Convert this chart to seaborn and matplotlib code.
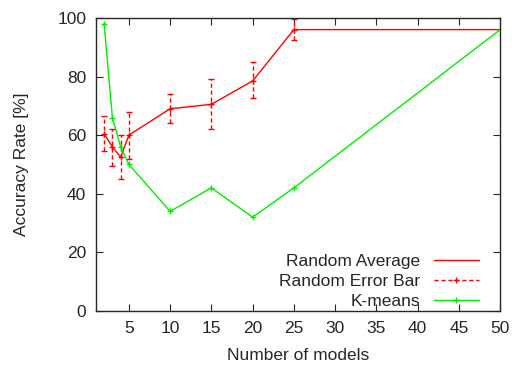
import matplotlib
matplotlib.use("Agg")
import matplotlib.pyplot as plt
import pandas as pd
import seaborn as sns

# ----------------------------
# data
# ----------------------------
n_models = [2, 3, 4, 5, 10, 15, 20, 25, 50]
random_avg = [60.5, 56, 52.5, 60, 69, 70.5, 78.5, 96, 96]
kmeans = [98, 66, 56, 50, 34, 42, 32, 42, 96]

err_x = [2, 3, 4, 5, 10, 15, 20, 25]
err_mid = [60.5, 56, 52.5, 60, 69, 70.5, 78.5, 96]
err_low = [54.5, 49.5, 45, 52, 64, 62, 72.5, 92.5]
err_high = [66.5, 62, 60, 68, 74, 79, 85, 99.5]

x_ticks = [5, 10, 15, 20, 25, 30, 35, 40, 45, 50]
y_ticks = [0, 20, 40, 60, 80, 100]

sns.set_style("ticks")
plt.rcParams["font.family"] = ["Liberation Sans", "DejaVu Sans"]
plt.rcParams["xtick.direction"] = "in"
plt.rcParams["ytick.direction"] = "in"

df = pd.DataFrame({"n": n_models, "avg": random_avg, "km": kmeans})

fig = plt.figure(figsize=(5.21, 3.65), dpi=100)
ax = fig.add_axes([0.184, 0.148, 0.776, 0.803])

red = "#ff0000"
green = "#00ee00"

sns.lineplot(data=df, x="n", y="avg", color=red, lw=1.0, ax=ax,
             label="Random Average")

lo = [m - l for m, l in zip(err_mid, err_low)]
hi = [h - m for m, h in zip(err_mid, err_high)]
eb = ax.errorbar(err_x, err_mid, yerr=[lo, hi], fmt="none", ecolor=red,
                 elinewidth=1.0, capsize=2, capthick=1.0)
for lc in eb[2]:
    lc.set_linestyle((0, (3, 2)))
ax.plot(err_x, err_mid, ls="none", marker="+", ms=5, mew=1.0, color=red)
eb_handle = plt.Line2D([], [], color=red, ls=(0, (3, 2)), lw=1.0,
                       marker="+", ms=5, mew=1.0)

sns.lineplot(data=df, x="n", y="km", color=green, lw=1.0, marker="+",
             markersize=5, markeredgewidth=1.0, markeredgecolor=green,
             ax=ax, label="K-means")

handles, labels = ax.get_legend_handles_labels()
handles = [handles[0], eb_handle, handles[1]]
labels = ["Random Average", "Random Error Bar", "K-means"]
ax.legend(handles, labels, loc="lower right", frameon=False,
          markerfirst=False, fontsize=12.5, handlelength=2.6,
          labelspacing=0.28, borderaxespad=0.0, handletextpad=0.8,
          bbox_to_anchor=(0.965, -0.018))

ax.set_xlim(1, 50)
ax.set_ylim(0, 100)
ax.set_xticks(x_ticks)
ax.set_yticks(y_ticks)
ax.tick_params(top=True, right=True, labelsize=12.5, length=5, width=0.8,
               pad=7)
for s in ax.spines.values():
    s.set_visible(True)
    s.set_linewidth(1.0)

ax.set_xlabel("Number of models", fontsize=12.5, labelpad=9)
ax.set_ylabel("Accuracy Rate [%]", fontsize=12.5, labelpad=20)

fig.savefig("out.png", dpi=100)
